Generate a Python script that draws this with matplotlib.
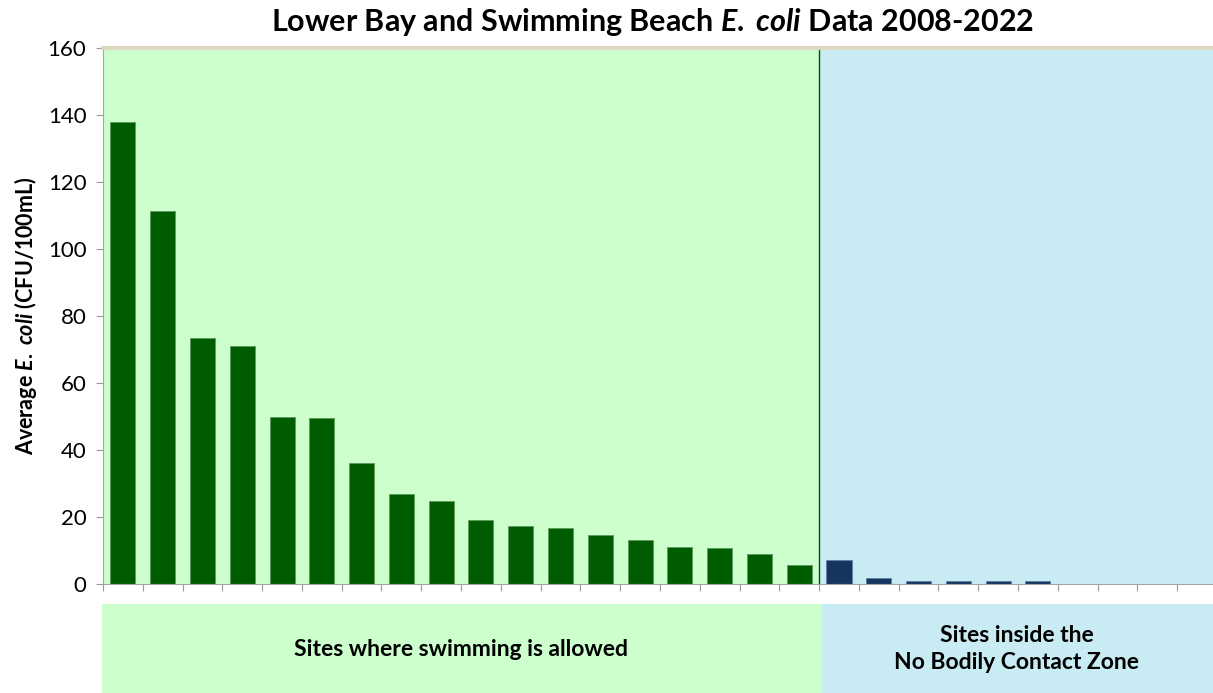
import matplotlib.pyplot as plt
from matplotlib.patches import Rectangle

# --- Data ---
swim_values = [137.8, 111.4, 73.5, 71.0, 50.0, 49.6, 36.2, 26.8, 24.9, 19.2,
               17.3, 16.7, 14.5, 13.2, 11.0, 10.6, 8.9, 5.7]
nbcz_values = [7.2, 1.9, 1.0, 1.0, 1.0, 1.0, 0, 0, 0, 0]
group_labels = ["Sites where swimming is allowed",
                "Sites inside the\nNo Bodily Contact Zone"]
y_ticks = [0, 20, 40, 60, 80, 100, 120, 140, 160]

# --- Style ---
plt.rcParams['font.family'] = ['Lato', 'DejaVu Sans']
plt.rcParams['mathtext.fontset'] = 'custom'
plt.rcParams['mathtext.rm'] = 'Lato:bold'
plt.rcParams['mathtext.it'] = 'Lato:bold:italic'
plt.rcParams['mathtext.bf'] = 'Lato:bold'

green_bg = '#ccffcc'
blue_bg = '#c9ebf3'
bar_green = '#005c00'
bar_navy = '#17365d'

fig = plt.figure(figsize=(12.13, 6.93), dpi=100)
ax = fig.add_axes([103 / 1213, 109 / 693, 1 - 103 / 1213, 536 / 693])

n_swim = len(swim_values)
n_all = n_swim + len(nbcz_values)
x_max = 27.9

ax.axvspan(0, n_swim, color=green_bg, lw=0, zorder=0)
ax.axvspan(n_swim, x_max, color=blue_bg, lw=0, zorder=0)
ax.axvline(n_swim, color='#005000', lw=1, zorder=1)

ax.bar([i + 0.5 for i in range(n_swim)], swim_values, width=0.63,
       color=bar_green, edgecolor='#5a9a5a', linewidth=0.6, zorder=2)
ax.bar([n_swim + i + 0.5 for i in range(len(nbcz_values))], nbcz_values, width=0.63,
       color=bar_navy, edgecolor='#5f7fa8', linewidth=0.6, zorder=2)

ax.set_xlim(0, x_max)
ax.set_ylim(0, 160)
ax.set_xticks(range(n_all))
ax.set_xticklabels([])
ax.set_yticks(y_ticks)
ax.tick_params(axis='y', labelsize=16, length=5, color='#999999', pad=7)
ax.tick_params(axis='x', length=5, color='#999999')

for s in ['left', 'bottom']:
    ax.spines[s].set_color('#a6a6a6')
ax.spines['right'].set_visible(False)
ax.spines['top'].set_color('#ddd8c4')
ax.spines['top'].set_linewidth(3)

ax.set_ylabel(r"Average $\mathit{E.}$ $\mathit{coli}$ (CFU/100mL)", fontsize=15.5,
              fontweight='bold', labelpad=6)
fig.text(0.538, 0.968, r"Lower Bay and Swimming Beach $\mathit{E.}$ $\mathit{coli}$ Data 2008-2022",
         ha='center', va='center', fontsize=22, fontweight='bold')

# --- Group label panel under the chart ---
panel_h = 89.5 / 693
split = 820.5 / 1213
fig.patches.append(Rectangle((101.7 / 1213, 0), split - 101.7 / 1213, panel_h,
                             transform=fig.transFigure, color=green_bg, lw=0))
fig.patches.append(Rectangle((split, 0), 1 - split, panel_h,
                             transform=fig.transFigure, color=blue_bg, lw=0))
fig.text(461 / 1213, 1 - 650 / 693, group_labels[0], ha='center', va='center',
         fontsize=16.5, fontweight='bold')
fig.text(1017 / 1213, 1 - 649 / 693, group_labels[1], ha='center', va='center',
         fontsize=16.5, fontweight='bold', linespacing=1.3)

fig.savefig('out.png', dpi=100)
